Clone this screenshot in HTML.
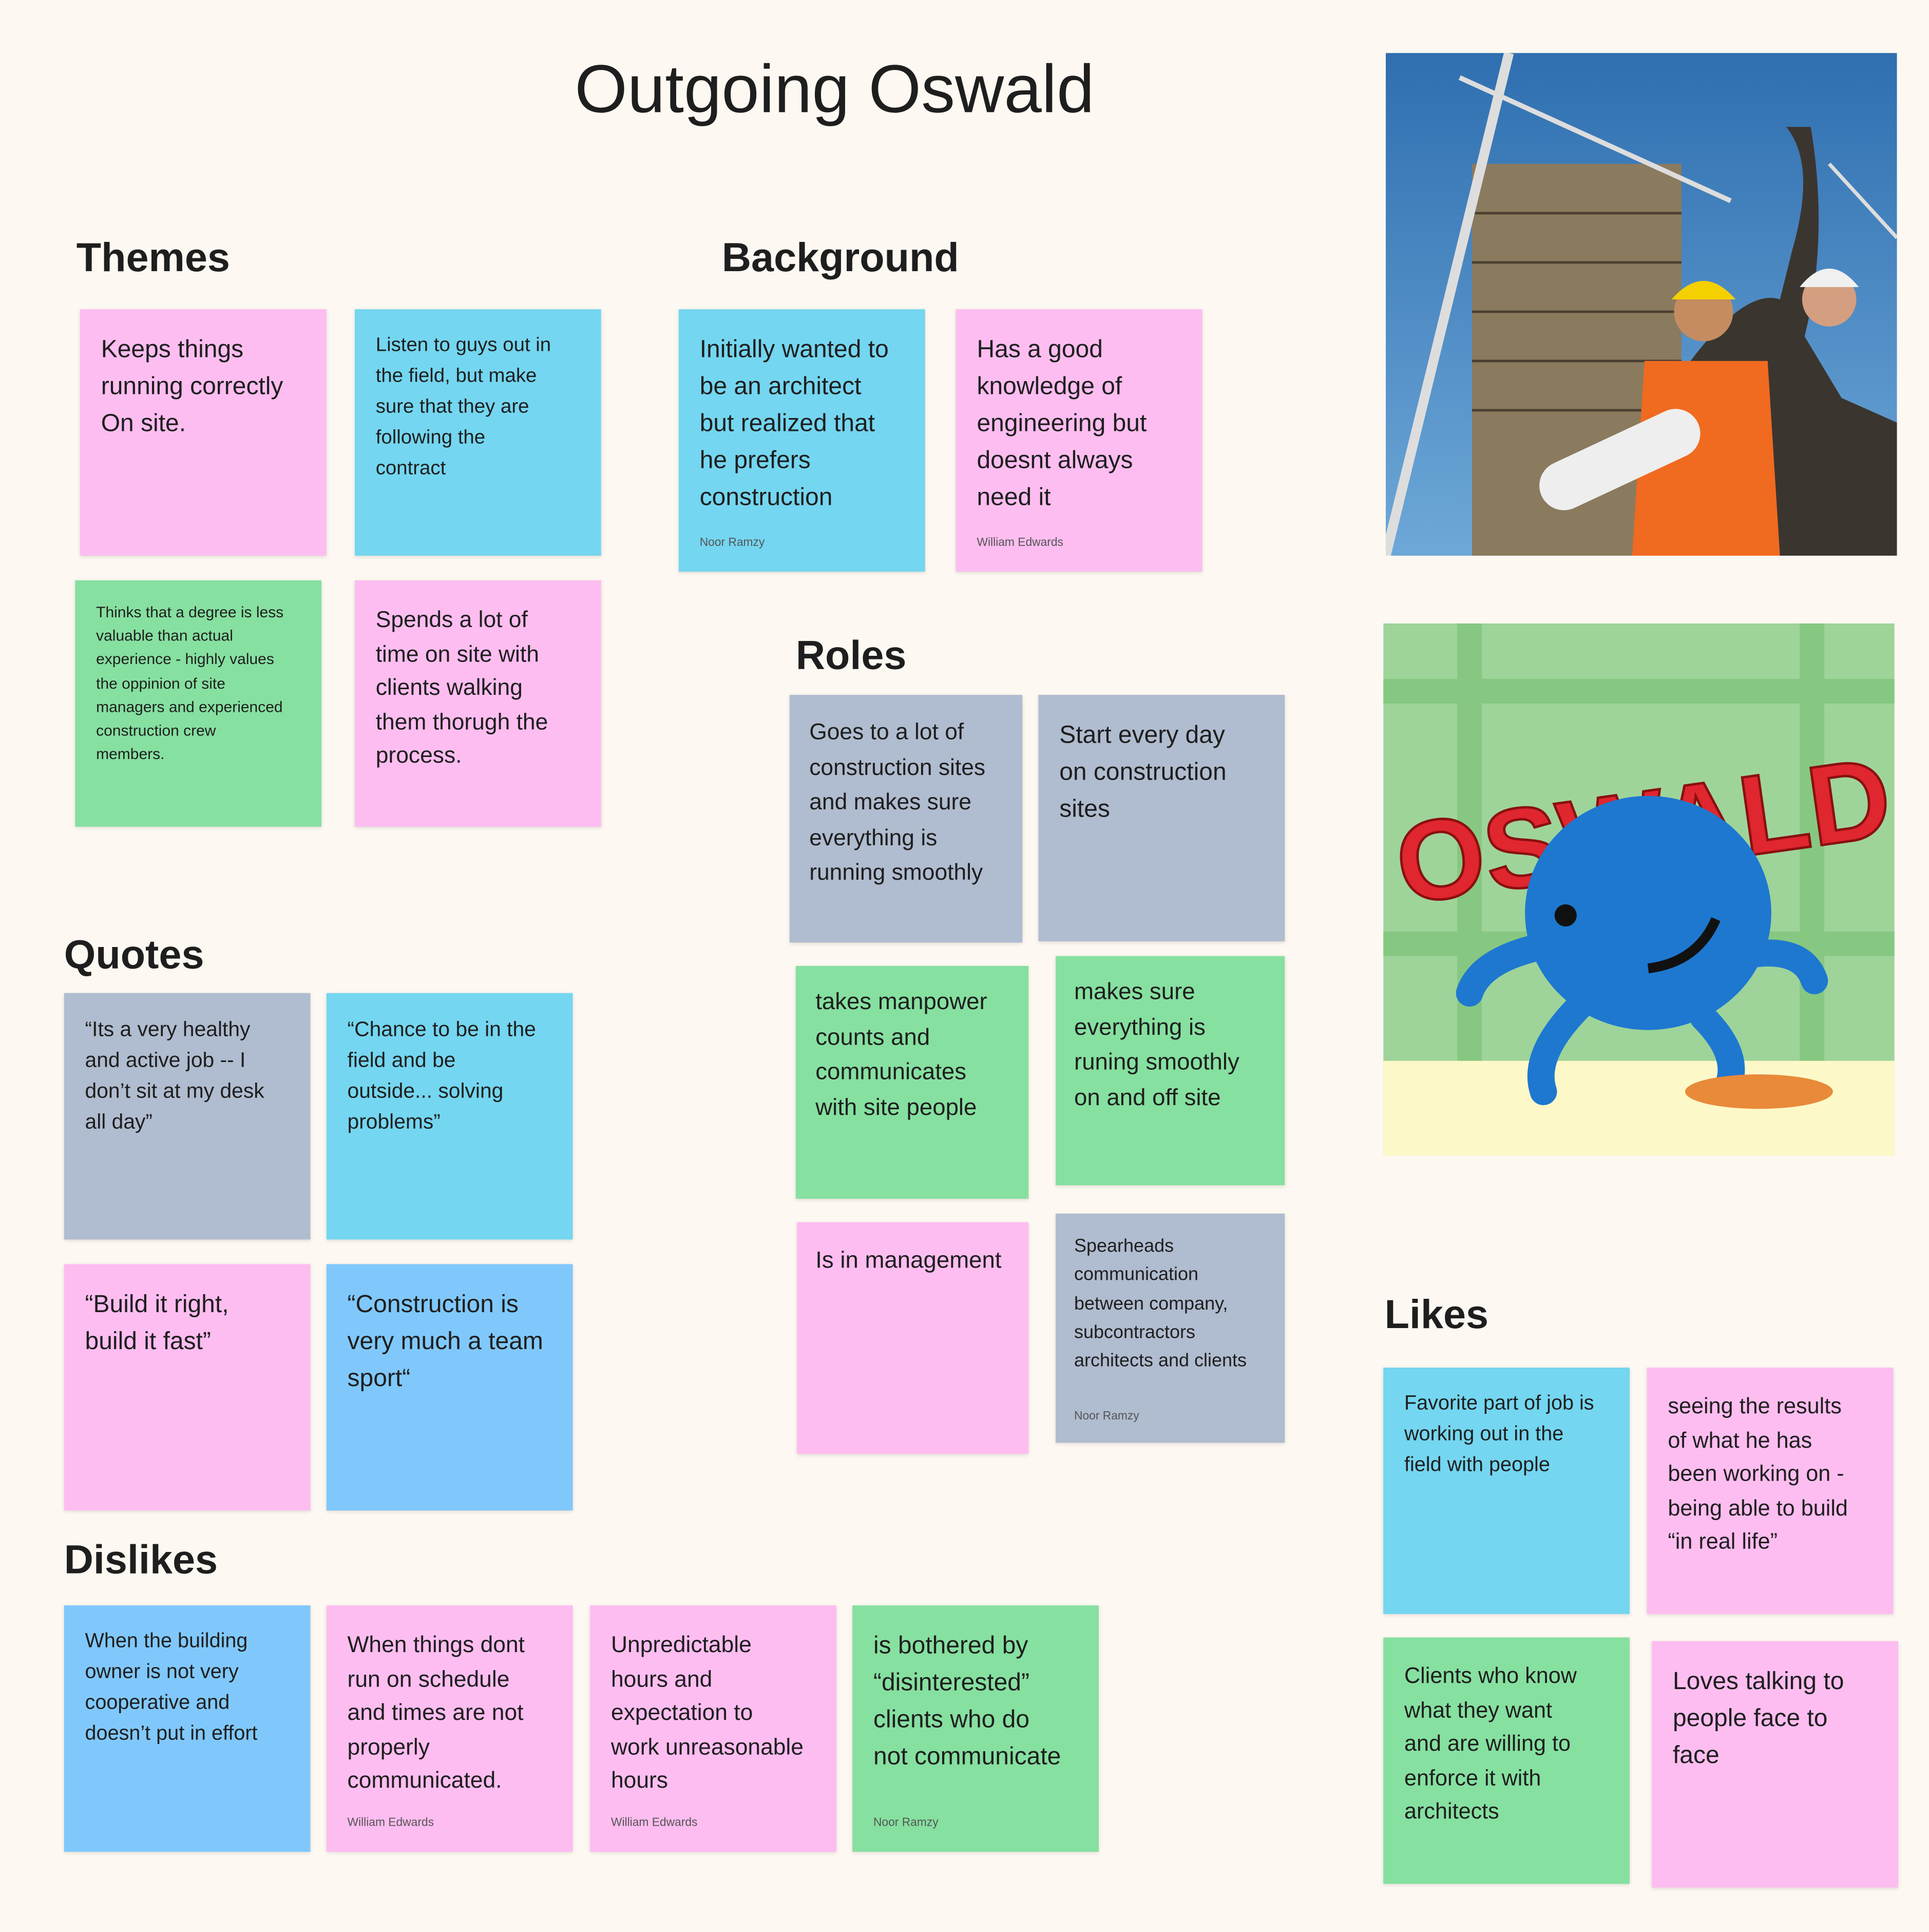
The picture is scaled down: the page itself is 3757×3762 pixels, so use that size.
<!DOCTYPE html>
<html><head><meta charset="utf-8"><style>
html,body{margin:0;padding:0;background:#fdf8f1;}
body{width:3757px;height:3762px;overflow:hidden;}
#w{position:absolute;left:0;top:0;width:1566px;height:1568px;transform:scale(2.3991);transform-origin:0 0;font-family:"Liberation Sans",sans-serif;color:#1e1e1e;}
.h{position:absolute;font-weight:bold;font-size:33px;line-height:1;}
.n{position:absolute;box-sizing:border-box;padding:18px 8px 0 17px;box-shadow:0 1px 3px rgba(0,0,0,.12);white-space:nowrap;}
.a{position:absolute;left:17px;bottom:17px;font-size:9.5px;line-height:12px;color:#555;}
.p{background:#fdbdf0}.c{background:#74d6f0}.g{background:#86e0a0}.y{background:#b0bccf}.b{background:#80c8fc}
</style></head><body><div id="w">
<div style="position:absolute;left:0;width:1355px;top:40px;text-align:center;font-size:55px;">Outgoing Oswald</div>

<div class="h" style="left:62px;top:192px">Themes</div>
<div class="h" style="left:586px;top:192px">Background</div>
<div class="h" style="left:646px;top:515px">Roles</div>
<div class="h" style="left:52px;top:758px">Quotes</div>
<div class="h" style="left:52px;top:1249px">Dislikes</div>
<div class="h" style="left:1124px;top:1050px">Likes</div>

<div class="n p" style="left:65px;top:251px;width:200px;height:200px;font-size:20px;line-height:30px">Keeps things<br>running correctly<br>On site.</div>
<div class="n c" style="left:288px;top:251px;width:200px;height:200px;font-size:16px;line-height:25px;padding-top:17px">Listen to guys out in<br>the field, but make<br>sure that they are<br>following the<br>contract</div>
<div class="n g" style="left:61px;top:471px;width:200px;height:200px;font-size:12.5px;line-height:19.2px;padding-top:17px">Thinks that a degree is less<br>valuable than actual<br>experience - highly values<br>the oppinion of site<br>managers and experienced<br>construction crew<br>members.</div>
<div class="n p" style="left:288px;top:471px;width:200px;height:200px;font-size:18.5px;line-height:27.5px">Spends a lot of<br>time on site with<br>clients walking<br>them thorugh the<br>process.</div>

<div class="n c" style="left:551px;top:251px;width:200px;height:213px;font-size:20px;line-height:30px">Initially wanted to<br>be an architect<br>but realized that<br>he prefers<br>construction<div class="a">Noor Ramzy</div></div>
<div class="n p" style="left:776px;top:251px;width:200px;height:213px;font-size:20px;line-height:30px">Has a good<br>knowledge of<br>engineering but<br>doesnt always<br>need it<div class="a">William Edwards</div></div>

<div class="n y" style="left:641px;top:564px;width:189px;height:201px;font-size:18.5px;line-height:28.5px;padding-top:16px;padding-left:16px">Goes to a lot of<br>construction sites<br>and makes sure<br>everything is<br>running smoothly</div>
<div class="n y" style="left:843px;top:564px;width:200px;height:200px;font-size:20px;line-height:30px">Start every day<br>on construction<br>sites</div>
<div class="n g" style="left:646px;top:784px;width:189px;height:189px;font-size:19px;line-height:28.5px;padding-top:16px;padding-left:16px">takes manpower<br>counts and<br>communicates<br>with site people</div>
<div class="n g" style="left:857px;top:776px;width:186px;height:186px;font-size:19px;line-height:28.5px;padding-top:16px;padding-left:15px">makes sure<br>everything is<br>runing smoothly<br>on and off site</div>
<div class="n p" style="left:647px;top:992px;width:188px;height:188px;font-size:19px;line-height:28.5px;padding-left:15px">Is in management</div>
<div class="n y" style="left:857px;top:985px;width:186px;height:186px;font-size:15px;line-height:23.3px;padding-top:15px;padding-left:15px">Spearheads<br>communication<br>between company,<br>subcontractors<br>architects and clients<div class="a" style="left:15px;bottom:15px">Noor Ramzy</div></div>

<div class="n y" style="left:52px;top:806px;width:200px;height:200px;font-size:17px;line-height:25px;padding-top:17px">“Its a very healthy<br>and active job -- I<br>don’t sit at my desk<br>all day”</div>
<div class="n c" style="left:265px;top:806px;width:200px;height:200px;font-size:17px;line-height:25px;padding-top:17px">“Chance to be in the<br>field and be<br>outside... solving<br>problems”</div>
<div class="n p" style="left:52px;top:1026px;width:200px;height:200px;font-size:20px;line-height:30px">“Build it right,<br>build it fast”</div>
<div class="n b" style="left:265px;top:1026px;width:200px;height:200px;font-size:20px;line-height:30px">“Construction is<br>very much a team<br>sport“</div>

<div class="n b" style="left:52px;top:1303px;width:200px;height:200px;font-size:16.5px;line-height:25px;padding-top:17px">When the building<br>owner is not very<br>cooperative and<br>doesn’t put in effort</div>
<div class="n p" style="left:265px;top:1303px;width:200px;height:200px;font-size:18.5px;line-height:27.5px">When things dont<br>run on schedule<br>and times are not<br>properly<br>communicated.<div class="a">William Edwards</div></div>
<div class="n p" style="left:479px;top:1303px;width:200px;height:200px;font-size:18.5px;line-height:27.5px">Unpredictable<br>hours and<br>expectation to<br>work unreasonable<br>hours<div class="a">William Edwards</div></div>
<div class="n g" style="left:692px;top:1303px;width:200px;height:200px;font-size:20px;line-height:30px">is bothered by<br>“disinterested”<br>clients who do<br>not communicate<div class="a">Noor Ramzy</div></div>

<div class="n c" style="left:1123px;top:1110px;width:200px;height:200px;font-size:16.5px;line-height:25px;padding-top:17px">Favorite part of job is<br>working out in the<br>field with people</div>
<div class="n p" style="left:1337px;top:1110px;width:200px;height:200px;font-size:18px;line-height:27.5px">seeing the results<br>of what he has<br>been working on -<br>being able to build<br>“in real life”</div>
<div class="n g" style="left:1123px;top:1329px;width:200px;height:200px;font-size:18px;line-height:27.5px">Clients who know<br>what they want<br>and are willing to<br>enforce it with<br>architects</div>
<div class="n p" style="left:1341px;top:1332px;width:200px;height:200px;font-size:20px;line-height:30px">Loves talking to<br>people face to<br>face</div>

<svg style="position:absolute;left:1125px;top:43px" width="415" height="408" viewBox="0 0 415 408">
<defs><linearGradient id="sk" x1="0" y1="0" x2="0" y2="1"><stop offset="0" stop-color="#2f6fb0"/><stop offset="1" stop-color="#6ea8d8"/></linearGradient></defs>
<rect width="415" height="408" fill="url(#sk)"/>
<rect x="70" y="90" width="170" height="318" fill="#8a7a5e"/>
<g stroke="#4a3f30" stroke-width="2">
<line x1="70" y1="130" x2="240" y2="130"/><line x1="70" y1="170" x2="240" y2="170"/><line x1="70" y1="210" x2="240" y2="210"/><line x1="70" y1="250" x2="240" y2="250"/><line x1="70" y1="290" x2="240" y2="290"/></g>
<line x1="0" y1="408" x2="100" y2="0" stroke="#ddd" stroke-width="8"/>
<line x1="60" y1="20" x2="280" y2="120" stroke="#ddd" stroke-width="4"/>
<line x1="360" y1="90" x2="415" y2="150" stroke="#ddd" stroke-width="3"/>
<path d="M230 408 L240 260 Q290 190 320 200 L330 160 Q350 90 325 60 L345 60 Q360 150 340 230 L370 280 L415 300 L415 408Z" fill="#3b3530"/>
<circle cx="258" cy="210" r="24" fill="#c48c60"/><path d="M232 200 Q258 170 284 200Z" fill="#f4d000"/>
<circle cx="360" cy="200" r="22" fill="#d49e80"/><path d="M336 190 Q360 160 384 190Z" fill="#f0f0f0"/>
<path d="M200 408 L210 250 L310 250 L320 408Z" fill="#f06a20"/>
<rect x="120" y="310" width="140" height="40" rx="20" transform="rotate(-25 190 330)" fill="#eee"/>
</svg>

<svg style="position:absolute;left:1123px;top:506px" width="415" height="432" viewBox="0 0 415 432">
<rect width="415" height="432" fill="#9ed49a"/>
<rect y="355" width="415" height="77" fill="#fdf8c8"/>
<g fill="#86c882"><rect x="60" y="0" width="20" height="355"/><rect x="338" y="0" width="20" height="355"/><rect x="0" y="45" width="415" height="20"/><rect x="0" y="250" width="415" height="20"/></g>
<text x="210" y="200" text-anchor="middle" font-family="Liberation Sans" font-weight="bold" font-size="92" fill="#e0262e" stroke="#8a1010" stroke-width="2" transform="rotate(-8 210 160)">OSWALD</text>
<ellipse cx="215" cy="235" rx="100" ry="95" fill="#1e78d0"/>
<path d="M140 260 Q80 270 70 300 M290 270 Q340 260 350 290 M160 310 Q120 350 130 380 M260 320 Q290 350 280 375" stroke="#1e78d0" stroke-width="22" fill="none" stroke-linecap="round"/>
<circle cx="148" cy="237" r="9" fill="#111"/>
<path d="M215 280 Q255 275 270 240" stroke="#111" stroke-width="8" fill="none"/>
<ellipse cx="305" cy="380" rx="60" ry="14" fill="#e88a3a"/>
</svg>
</div></body></html>
